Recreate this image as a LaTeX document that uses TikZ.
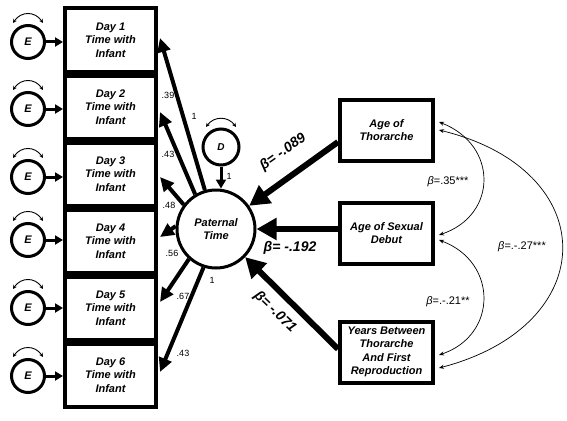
\documentclass[tikz,border=0pt]{standalone}
\usepackage{fontspec}
\setmainfont{Liberation Sans}
\usetikzlibrary{arrows.meta,calc}
\begin{document}
\begin{tikzpicture}[x=1pt,y=-1pt,
  bi/.style={font=\fontsize{11}{13.5}\selectfont\bfseries\itshape},
  dbox/.style={draw,line width=4pt,minimum width=91pt,minimum height=63pt,align=center,inner sep=0pt,bi},
  pbox/.style={draw,line width=4pt,minimum width=93pt,minimum height=61pt,align=center,inner sep=0pt,bi},
  ecirc/.style={draw,circle,line width=3pt,minimum size=33pt,inner sep=0pt,bi},
  load/.style={line width=4pt,-{Triangle[length=14pt,width=13pt]}},
  pred/.style={line width=6pt,-{Triangle[length=20pt,width=21pt]}},
  earr/.style={line width=3pt,-{Triangle[length=8pt,width=9pt]}},
  cov/.style={line width=0.7pt,{Stealth[length=5pt,width=4pt]}-{Stealth[length=5pt,width=4pt]}},
  self/.style={line width=0.9pt,{Stealth[length=4pt,width=4pt]}-{Stealth[length=4pt,width=4pt]}},
  num/.style={font=\fontsize{9}{10}\selectfont,inner sep=0pt},
  blab/.style={font=\fontsize{14}{16}\selectfont\bfseries\itshape,inner sep=0pt},
  clab/.style={font=\fontsize{11}{13}\selectfont,inner sep=0pt}
]
\useasboundingbox (0,0) rectangle (567,420);
\fill[white] (0,0) rectangle (567,420);

% Day boxes
\node[dbox] (d1) at (110.5,40) {Day 1\\Time with\\Infant};
\node[dbox] (d2) at (110.5,107) {Day 2\\Time with\\Infant};
\node[dbox] (d3) at (110.5,174) {Day 3\\Time with\\Infant};
\node[dbox] (d4) at (110.5,241) {Day 4\\Time with\\Infant};
\node[dbox] (d5) at (110.5,308) {Day 5\\Time with\\Infant};
\node[dbox] (d6) at (110.5,375) {Day 6\\Time with\\Infant};

% Error circles
\foreach \i/\y in {1/42,2/109,3/177,4/240,5/308,6/376}{
  \node[ecirc] (e\i) at (28,\y) {E};
  \draw[earr] (e\i.east) -- (e\i.east -| d\i.west);
  \draw[self] ($(e\i)+(-15,-19)$) .. controls ($(e\i)+(-7,-31)$) and ($(e\i)+(7,-31)$) .. ($(e\i)+(15,-19)$);
}

% Paternal time and disturbance
\node[draw,circle,line width=3pt,minimum size=78pt,inner sep=0pt,align=center,bi] (pt) at (216,229) {Paternal\\Time};
\node[draw,circle,line width=3pt,minimum size=36pt,inner sep=0pt,font=\fontsize{10}{12}\selectfont\bfseries\itshape] (dd) at (221,147) {D};
\draw[self] ($(dd)+(-15,-20)$) .. controls ($(dd)+(-7,-31)$) and ($(dd)+(7,-31)$) .. ($(dd)+(15,-20)$);
\draw[line width=3pt,-{Triangle[length=9pt,width=10pt]}] (dd.south) -- (dd.south |- pt.north);
\node[num] (l0) at (229,176) {1};

% Loadings
\draw[load] (pt.106) -- ($(d1.east)+(2,-2)$);
\draw[load] (pt.121) -- ($(d2.east)+(2,5)$);
\draw[load] (pt.143) -- ($(d3.east)+(2,3)$);
\draw[load] (pt.176) -- ($(d4.east)+(2,-4)$);
\draw[load] (pt.228) -- ($(d5.east)+(2,-6)$);
\draw[load] (pt.252) -- ($(d6.east)+(2,-3)$);
\node[num] (l1) at (194,116) {1};
\node[num] (l2) at (168,95) {.39};
\node[num] (l3) at (168,154) {.43};
\node[num] (l4) at (169,205) {.48};
\node[num] (l5) at (172,253) {.56};
\node[num] (l6) at (183,296) {.67};
\node[num] (l7) at (212,280) {1};
\node[num] (l8) at (183,353) {.43};

% Predictors
\node[pbox] (thor) at (386.5,130) {Age of\\Thorarche};
\node[pbox] (deb) at (386.5,233) {Age of Sexual\\Debut};
\node[pbox] (yrs) at (386.5,352) {Years Between\\Thorarche\\And First\\Reproduction};

\draw[pred] ($(thor.west)+(0,12)$) -- (pt.35);
\draw[pred] (deb.west |- pt.east) -- (pt.east);
\draw[pred] ($(yrs.west)+(0,-3)$) -- (pt.-44);
\node[blab,rotate=35] (b1) at (283,152) {β= -.089};
\node[blab] (b2) at (290,248) {β= -.192};
\node[blab,rotate=-44] (b3) at (275,312) {β= -.071};

% Covariances
\draw[cov] ($(thor.east)+(4,-8)$) .. controls (498,145) and (498,215) .. ($(deb.east)+(4,2)$);
\draw[cov] ($(deb.east)+(4,7)$) .. controls (498,262) and (498,335) .. ($(yrs.east)+(4,3)$);
\draw[cov] ($(thor.east)+(4,0)$) .. controls (603,170) and (603,325) .. ($(yrs.east)+(4,16)$);
\node[clab] (c1) at (448,182) {\textit{β}=.35***};
\node[clab] (c2) at (448,302) {\textit{β}=.-.21**};
\node[clab] (c3) at (522,247) {\textit{β}=.-.27***};
\end{tikzpicture}
\end{document}
